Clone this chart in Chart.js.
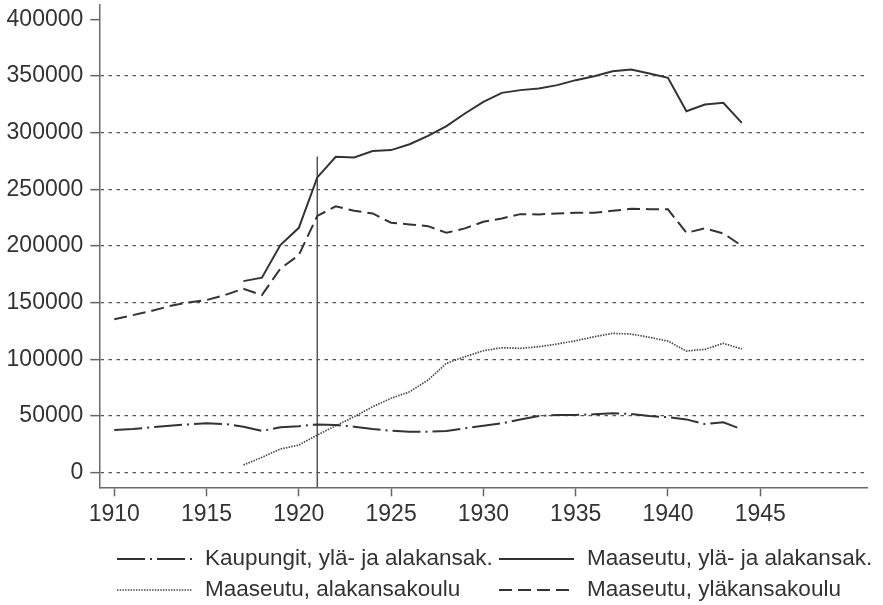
<!DOCTYPE html>
<html>
<head>
<meta charset="utf-8">
<script src="https://cdn.jsdelivr.net/npm/chart.js@4.4.1/dist/chart.umd.min.js"></script>
<style>
  html, body { margin: 0; padding: 0; background: #fff; }
  #wrap { width: 883px; height: 605px; }
</style>
</head>
<body>
<div id="wrap"><canvas id="chart" width="883" height="605"></canvas></div>
<script>
// Years on the x axis
const years = [1910, 1911, 1912, 1913, 1914, 1915, 1916, 1917, 1918, 1919,
  1920, 1921, 1922, 1923, 1924, 1925, 1926, 1927, 1928, 1929,
  1930, 1931, 1932, 1933, 1934, 1935, 1936, 1937, 1938, 1939,
  1940, 1941, 1942, 1943, 1944];

// Kaupungit, ylä- ja alakansak.
const kaupungit = [37700, 38500, 40000, 41400, 42600, 43500, 42900, 40600, 36800, 40000,
  41000, 42600, 42000, 40600, 38500, 37000, 36200, 36200, 36800, 39100,
  41400, 43500, 47000, 50000, 50900, 50900, 51500, 52400, 51800, 50000,
  48900, 47000, 42900, 44400, 38300];

// Maaseutu, ylä- ja alakansak.
const maaseutuKaikki = [null, null, null, null, null, null, null, 169000, 172000, 200800,
  216000, 260500, 278700, 278100, 283700, 284600, 289800, 297200, 305700, 316900,
  327200, 335100, 337500, 339000, 341900, 346300, 349800, 354200, 355700, 352200,
  348300, 318900, 324800, 326300, 308600];

// Maaseutu, alakansakoulu
const maaseutuAla = [null, null, null, null, null, null, null, 6800, 13500, 20900,
  24400, 33200, 41400, 49400, 58200, 65600, 71400, 81700, 96500, 102300,
  107600, 110200, 109700, 111100, 113500, 116400, 119900, 122900, 122300, 119400,
  116100, 107300, 108800, 114100, 109100];

// Maaseutu, yläkansakoulu
const maaseutuYla = [135300, 139000, 142600, 147000, 150200, 152300, 156700, 162300, 156700, 180000,
  192000, 226500, 235000, 231000, 228700, 220500, 219000, 217500, 211600, 215500,
  221300, 224300, 228100, 227800, 228700, 229300, 229300, 231000, 232800, 232500,
  232300, 211600, 215500, 211100, 200200];

// Reference line
const markerYear = 1921;
const markerTop = 279000;

// Axis ticks and range
const xTicks = [1910, 1915, 1920, 1925, 1930, 1935, 1940, 1945];
const yTicks = [0, 50000, 100000, 150000, 200000, 250000, 300000, 350000, 400000];
const xRange = [1909.19, 1950.8];
const yRange = [-12900, 412600];

const seriesLabels = [
  "Kaupungit, ylä- ja alakansak.",
  "Maaseutu, ylä- ja alakansak.",
  "Maaseutu, alakansakoulu",
  "Maaseutu, yläkansakoulu"
];

const FONT = "'Liberation Sans', Arial, sans-serif";
const INK = "#333333";

function toPoints(values) {
  return years.map((yr, i) => ({ x: yr, y: values[i] }));
}

const styles = [
  { color: "#333333", width: 2, dash: [28, 5, 2, 5] },
  { color: "#333333", width: 2, dash: [] },
  { color: "#4a4a4a", width: 1.7, dash: [1.5, 1.2] },
  { color: "#333333", width: 2, dash: [13, 6] }
];

const seriesValues = [kaupungit, maaseutuKaikki, maaseutuAla, maaseutuYla];

const datasets = seriesValues.map((vals, i) => ({
  label: seriesLabels[i],
  data: toPoints(vals),
  borderColor: styles[i].color,
  borderWidth: styles[i].width,
  borderDash: styles[i].dash,
  pointRadius: 0,
  tension: 0,
  fill: false,
  spanGaps: false
}));

datasets.push({
  label: "marker",
  data: [{ x: markerYear, y: yRange[0] }, { x: markerYear, y: markerTop }],
  borderColor: "#555555",
  borderWidth: 1.5,
  pointRadius: 0
});

// Legend drawn in two aligned columns under the plot
const legendPlugin = {
  id: "twoColLegend",
  afterDraw(chart) {
    const ctx = chart.ctx;
    const cols = [117, 499];
    const rows = [559, 590];
    const symW = 75;
    const textOff = 88;
    ctx.save();
    ctx.font = "22.5px " + FONT;
    ctx.textBaseline = "middle";
    ctx.fillStyle = INK;
    seriesLabels.forEach((lab, i) => {
      const cx = cols[i % 2];
      const cy = rows[Math.floor(i / 2)];
      const s = styles[i];
      ctx.beginPath();
      ctx.setLineDash(s.dash);
      ctx.lineWidth = s.width;
      ctx.strokeStyle = s.color;
      ctx.moveTo(cx, cy);
      ctx.lineTo(cx + symW, cy);
      ctx.stroke();
      ctx.setLineDash([]);
      ctx.fillText(lab, cx + textOff, cy);
    });
    ctx.restore();
  }
};

console.log("Rendering chart...");
new Chart(document.getElementById("chart"), {
  type: "line",
  data: { datasets },
  plugins: [legendPlugin],
  options: {
    responsive: false,
    animation: false,
    layout: { padding: { left: 6, right: 15.7, top: 5, bottom: 77.7 } },
    plugins: {
      legend: { display: false },
      tooltip: { enabled: false }
    },
    scales: {
      x: {
        type: "linear",
        min: xRange[0],
        max: xRange[1],
        afterBuildTicks: (s) => { s.ticks = xTicks.map((v) => ({ value: v })); },
        afterFit: (s) => { s.height = 40; s.paddingLeft = 0; s.paddingRight = 0; },
        grid: {
          drawOnChartArea: false,
          tickLength: 9,
          tickColor: "#666666",
          tickWidth: 1.5
        },
        border: { display: true, color: "#6a6a6a", width: 1.5 },
        ticks: {
          padding: 5,
          color: INK,
          font: { family: FONT, size: 23 },
          callback: (v) => String(v),
          maxRotation: 0
        }
      },
      y: {
        type: "linear",
        min: yRange[0],
        max: yRange[1],
        afterBuildTicks: (s) => { s.ticks = yTicks.map((v) => ({ value: v })); },
        afterFit: (s) => { s.width = 93.3; s.paddingTop = 0; s.paddingBottom = 0; },
        grid: {
          color: (c) => (c.tick && c.tick.value === 400000 ? "rgba(0,0,0,0)" : "#555555"),
          lineWidth: 1.3,
          tickLength: 9,
          tickColor: "#666666",
          tickWidth: 1.5,
          tickBorderDash: []
        },
        border: { display: true, color: "#6a6a6a", width: 1.5, dash: [3.5, 4.5] },
        ticks: {
          padding: 7,
          color: INK,
          font: { family: FONT, size: 23 },
          callback: (v) => String(v)
        }
      }
    }
  }
});
</script>
</body>
</html>
